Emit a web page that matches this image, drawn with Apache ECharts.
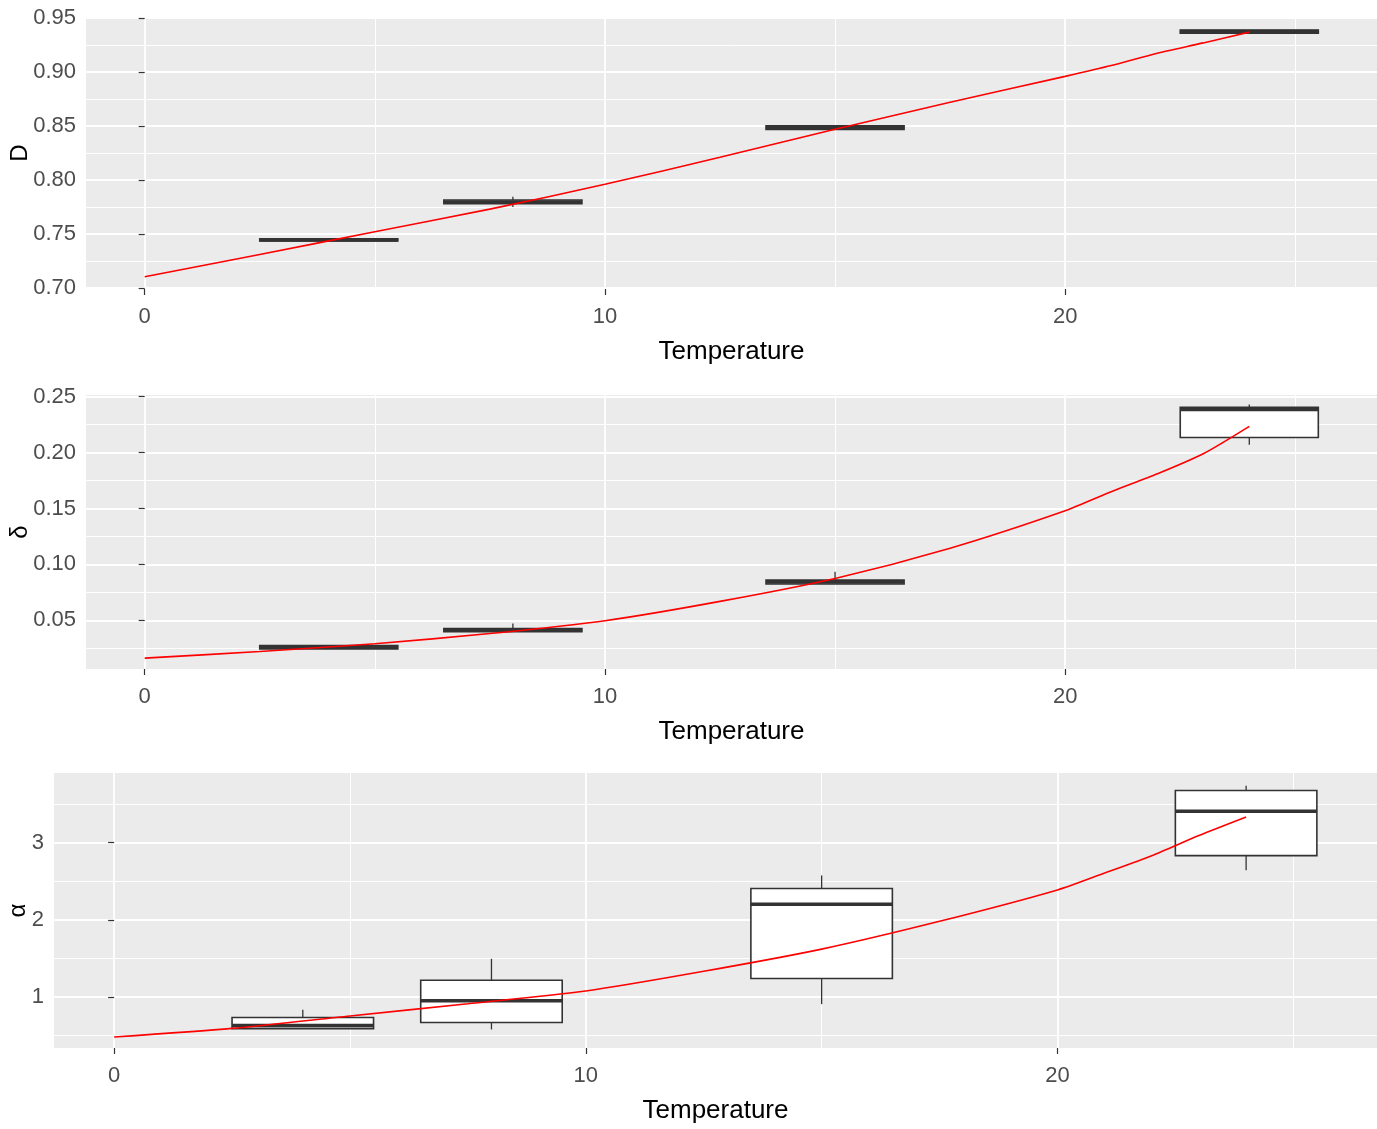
<!DOCTYPE html>
<html><head><meta charset="utf-8">
<script src="https://cdn.jsdelivr.net/npm/echarts@6/dist/echarts.min.js"></script>
<style>html,body{margin:0;padding:0;background:#fff}#c{width:1377px;height:1129px}</style>
</head><body><div id="c"></div><script>
// ---------- data ----------
const boxTemps = [4, 8, 15, 24];
// [low, q1, median, q3, high]
const dBoxStats = [
  [0.7435, 0.7435, 0.7445, 0.7455, 0.7455],
  [0.775, 0.778, 0.7795, 0.7815, 0.7845],
  [0.8468, 0.8468, 0.8487, 0.8502, 0.8502],
  [0.936, 0.936, 0.9375, 0.939, 0.939]
];
const deltaBoxStats = [
  [0.0245, 0.0245, 0.0262, 0.0275, 0.0275],
  [0.0398, 0.0398, 0.0412, 0.0426, 0.0472],
  [0.0825, 0.0825, 0.0843, 0.0860, 0.0935],
  [0.207, 0.2135, 0.2385, 0.2405, 0.2430]
];
const alphaBoxStats = [
  [0.59, 0.59, 0.63, 0.734, 0.835],
  [0.58, 0.67, 0.951, 1.217, 1.495],
  [0.908, 1.239, 2.20, 2.404, 2.574],
  [2.64, 2.830, 3.405, 3.674, 3.735]
];
const fitTemps = [0, 2.5, 5, 7.5, 10, 12.5, 15, 17.5, 20, 21, 22, 23, 24];
const dFit = [0.7104, 0.731, 0.752, 0.773, 0.796, 0.821, 0.847, 0.872, 0.896, 0.906, 0.9175, 0.927, 0.937];
const deltaFit = [0.0162, 0.0222, 0.0291, 0.0382, 0.0497, 0.067, 0.0875, 0.1145, 0.148, 0.165, 0.181, 0.199, 0.2235];
const alphaFit = [0.483, 0.594, 0.755, 0.912, 1.078, 1.333, 1.62, 1.98, 2.386, 2.605, 2.83, 3.09, 3.33];

const xMajorTicks = [0, 10, 20];
const xMinorTicks = [5, 15, 25];
const dMajorTicks = [0.70, 0.75, 0.80, 0.85, 0.90, 0.95];
const dMinorTicks = [0.725, 0.775, 0.825, 0.875, 0.925];
const deltaMajorTicks = [0.05, 0.10, 0.15, 0.20, 0.25];
const deltaMinorTicks = [0.025, 0.075, 0.125, 0.175, 0.225];
const alphaMajorTicks = [1, 2, 3];
const alphaMinorTicks = [0.5, 1.5, 2.5, 3.5];

const xRange = [-1.275, 26.775];
const dRange = [0.699, 0.951];
const deltaRange = [0.0065, 0.2515];
const alphaRange = [0.34, 3.90];

// ---------- styling ----------
const FONT = "'Liberation Sans Narrow', 'Arial Narrow', 'Liberation Sans', Arial, sans-serif";
const TICK_COL = '#4D4D4D';
const BOX_HALF = 1.5;

function majorX(grid) {
  return {
    type: 'value', gridIndex: grid, min: xRange[0], max: xRange[1],
    axisLine: {show: false},
    axisTick: {show: true, customValues: xMajorTicks, length: 6, lineStyle: {color: '#333', width: 1.2}},
    axisLabel: {customValues: xMajorTicks, color: TICK_COL, fontSize: 22, fontFamily: FONT, margin: 17},
    splitLine: {show: true, lineStyle: {color: '#FFFFFF', width: 1.8}},
    name: 'Temperature', nameLocation: 'middle', nameGap: 50, nameMoveOverlap: false,
    nameTextStyle: {color: '#000', fontSize: 26, fontFamily: FONT}
  };
}
function minorX(grid) {
  return {
    type: 'value', gridIndex: grid, min: xRange[0], max: xRange[1],
    axisLine: {show: false},
    axisTick: {show: false, customValues: xMinorTicks},
    axisLabel: {show: false, customValues: xMinorTicks},
    splitLine: {show: true, lineStyle: {color: '#FFFFFF', width: 1}}
  };
}
function majorY(grid, range, ticks, name, gap, fmt) {
  return {
    type: 'value', gridIndex: grid, min: range[0], max: range[1],
    axisLine: {show: false},
    axisTick: {show: true, customValues: ticks, length: 6, lineStyle: {color: '#333', width: 1.2}},
    axisLabel: {customValues: ticks, color: TICK_COL, fontSize: 22, fontFamily: FONT, margin: 10, formatter: fmt},
    splitLine: {show: true, lineStyle: {color: '#FFFFFF', width: 1.8}},
    name: name, nameLocation: 'middle', nameGap: gap, nameRotate: 90, nameMoveOverlap: false,
    nameTextStyle: {color: '#000', fontSize: 24, fontFamily: FONT}
  };
}
function minorY(grid, range, ticks) {
  return {
    type: 'value', gridIndex: grid, min: range[0], max: range[1],
    axisLine: {show: false},
    axisTick: {show: false, customValues: ticks},
    axisLabel: {show: false, customValues: ticks},
    splitLine: {show: true, lineStyle: {color: '#FFFFFF', width: 1}}
  };
}

function boxRender(params, api) {
  const x = api.value(0);
  const low = api.value(1), q1 = api.value(2), med = api.value(3), q3 = api.value(4), high = api.value(5);
  const pL = api.coord([x - BOX_HALF, q1]);
  const pR = api.coord([x + BOX_HALF, q3]);
  const pMedL = api.coord([x - BOX_HALF, med]);
  const pMedR = api.coord([x + BOX_HALF, med]);
  const pLow = api.coord([x, low]);
  const pHigh = api.coord([x, high]);
  const pQ1c = api.coord([x, q1]);
  const pQ3c = api.coord([x, q3]);
  const stroke = '#333333';
  return {
    type: 'group',
    children: [
      {type: 'line', shape: {x1: pLow[0], y1: pLow[1], x2: pQ1c[0], y2: pQ1c[1]}, style: {stroke: stroke, lineWidth: 1.3}},
      {type: 'line', shape: {x1: pHigh[0], y1: pHigh[1], x2: pQ3c[0], y2: pQ3c[1]}, style: {stroke: stroke, lineWidth: 1.3}},
      {type: 'rect', shape: {x: pL[0], y: pR[1], width: pR[0] - pL[0], height: pL[1] - pR[1]},
        style: {fill: '#FFFFFF', stroke: stroke, lineWidth: 1.6}},
      {type: 'line', shape: {x1: pMedL[0], y1: pMedL[1], x2: pMedR[0], y2: pMedR[1]}, style: {stroke: stroke, lineWidth: 3.6}}
    ]
  };
}

function boxSeries(idx, stats) {
  return {
    type: 'custom', xAxisIndex: idx * 2, yAxisIndex: idx * 2,
    renderItem: boxRender,
    encode: {x: 0, y: [1, 2, 3, 4, 5]},
    data: boxTemps.map((t, i) => [t].concat(stats[i])),
    z: 2, clip: true
  };
}
function fitSeries(idx, vals) {
  return {
    type: 'line', xAxisIndex: idx * 2, yAxisIndex: idx * 2,
    data: fitTemps.map((t, i) => [t, vals[i]]),
    showSymbol: false, smooth: 0.25,
    lineStyle: {color: '#FF0000', width: 1.6},
    z: 5
  };
}

const grids = [
  {left: 86, right: 0, top: 17, height: 272},
  {left: 86, right: 0, top: 395, height: 274},
  {left: 54, right: 0, top: 773, height: 275}
].map(g => Object.assign(g, {show: true, backgroundColor: '#EBEBEB', borderWidth: 0,
  containLabel: false, outerBoundsMode: 'none'}));

const fmt2 = v => v.toFixed(2);
const fmt0 = v => String(Math.round(v));

const option = {
  animation: false,
  backgroundColor: '#FFFFFF',
  grid: grids,
  xAxis: [majorX(0), minorX(0), majorX(1), minorX(1), majorX(2), minorX(2)],
  yAxis: [
    majorY(0, dRange, dMajorTicks, 'D', 54, fmt2), minorY(0, dRange, dMinorTicks),
    majorY(1, deltaRange, deltaMajorTicks, 'δ', 54, fmt2), minorY(1, deltaRange, deltaMinorTicks),
    majorY(2, alphaRange, alphaMajorTicks, 'α', 24, fmt0), minorY(2, alphaRange, alphaMinorTicks)
  ],
  series: [
    boxSeries(0, dBoxStats), fitSeries(0, dFit),
    boxSeries(1, deltaBoxStats), fitSeries(1, deltaFit),
    boxSeries(2, alphaBoxStats), fitSeries(2, alphaFit)
  ]
};
const chart = echarts.init(document.getElementById('c'), null, {renderer: 'canvas'});
chart.setOption(option);
</script></body></html>
